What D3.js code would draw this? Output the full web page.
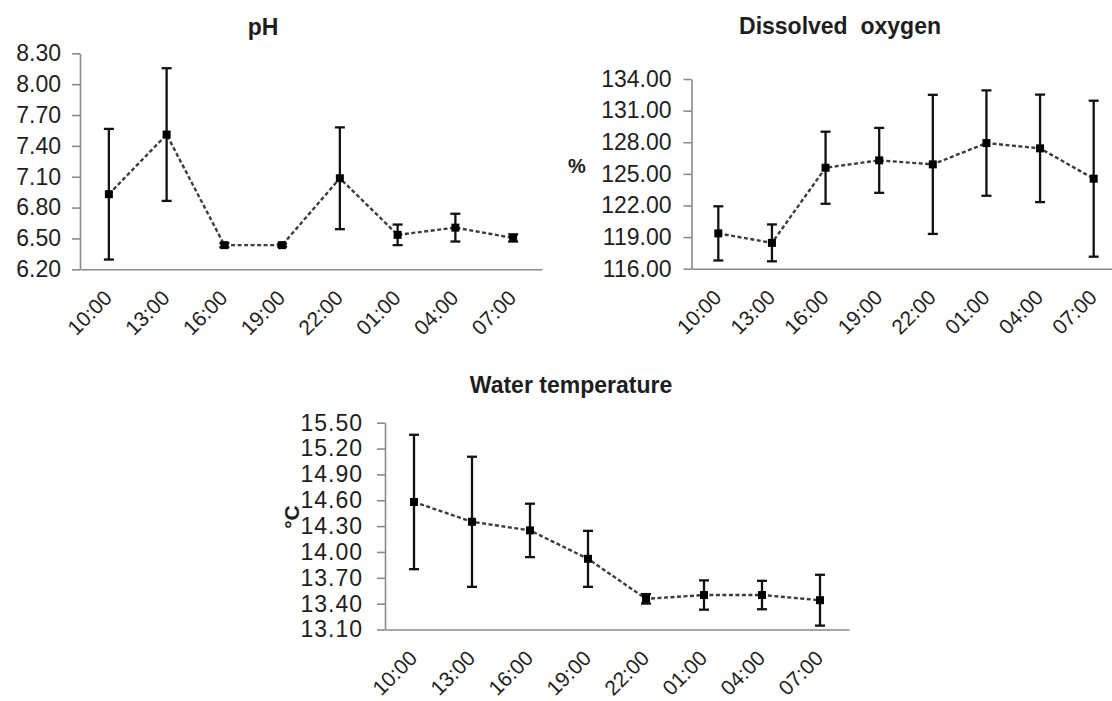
<!DOCTYPE html>
<html>
<head>
<meta charset="utf-8">
<script src="https://cdn.jsdelivr.net/npm/d3@7"></script>
<style>
    body { margin: 0; background: #fff; }
    svg { font-family: "Liberation Sans", Arial, sans-serif; }
    .axis path, .axis line { stroke: #8a8a8a; stroke-width: 1.6px; }
    .axis text { fill: #1e1e1e; }
    .title { font-weight: bold; fill: #1e1e1e; white-space: pre; }
</style>
</head>
<body>
<script>
// sampling times (shared by all three panels)
var times = ["10:00", "13:00", "16:00", "19:00", "22:00", "01:00", "04:00", "07:00"];

// pH
var phMean  = [6.93, 7.51, 6.435, 6.435, 7.085, 6.535, 6.605, 6.505];
var phSd    = [0.635, 0.645, 0.02, 0.015, 0.495, 0.10, 0.135, 0.035];
var phTicks = [6.20, 6.50, 6.80, 7.10, 7.40, 7.70, 8.00, 8.30];

// dissolved oxygen (%)
var doMean  = [119.35, 118.45, 125.58, 126.28, 125.9, 127.92, 127.42, 124.54];
var doSd    = [2.57, 1.75, 3.42, 3.08, 6.6, 5.0, 5.1, 7.4];
var doTicks = [116, 119, 122, 125, 128, 131, 134];

// water temperature (°C)
var wtMean  = [14.58, 14.35, 14.25, 13.92, 13.456, 13.50, 13.50, 13.44];
var wtSd    = [0.78, 0.755, 0.31, 0.325, 0.055, 0.17, 0.165, 0.295];
var wtTicks = [13.10, 13.40, 13.70, 14.00, 14.30, 14.60, 14.90, 15.20, 15.50];

var width = 1112, height = 701;

var svg = d3.select("body").append("svg")
    .attr("width", width)
    .attr("height", height);

function drawPanel(p) {
    var x = d3.scalePoint()
        .domain(times)
        .range([p.left, p.right])
        .padding(0.5);

    var y = d3.scaleLinear()
        .domain([p.ticks[0], p.ticks[p.ticks.length - 1]])
        .range([p.bottom, p.top]);

    var g = svg.append("g");

    // title
    g.append("text")
        .attr("class", "title")
        .attr("x", p.titleX)
        .attr("y", p.titleY)
        .attr("text-anchor", "middle")
        .attr("font-size", "23px")
        .text(p.title);

    // y axis
    var yAxis = g.append("g")
        .attr("class", "axis")
        .attr("transform", "translate(" + p.left + ",0)")
        .call(d3.axisLeft(y).tickValues(p.ticks).tickFormat(d3.format(".2f"))
            .tickSize(8).tickSizeOuter(0).tickPadding(p.tickPad));
    yAxis.selectAll("text")
        .attr("font-size", "23px")
        .attr("letter-spacing", p.spacing);

    // x axis, no tick marks, rotated labels
    var xAxis = g.append("g")
        .attr("class", "axis")
        .attr("transform", "translate(0," + p.bottom + ")")
        .call(d3.axisBottom(x).tickSize(0).tickSizeOuter(0));
    xAxis.selectAll("text")
        .attr("x", 0)
        .attr("y", 0)
        .attr("dy", 0)
        .attr("font-size", "21px")
        .attr("text-anchor", "end")
        .attr("transform", "translate(4,30) rotate(-45)");

    // unit label
    if (p.unit) {
        g.append("text")
            .attr("class", "title")
            .attr("font-size", p.unitSize)
            .attr("text-anchor", "middle")
            .attr("transform", "translate(" + p.unitX + "," + p.unitY + ") rotate(" + p.unitRot + ")")
            .text(p.unit);
    }

    var rows = times.map(function(t, i) { return {t: t, m: p.mean[i], s: p.sd[i]}; });

    // error bars
    var err = g.selectAll(".err").data(rows).enter().append("g")
        .attr("class", "err")
        .attr("stroke", "#111")
        .attr("stroke-width", 2.3);
    err.append("line")
        .attr("x1", function(d) { return x(d.t); })
        .attr("x2", function(d) { return x(d.t); })
        .attr("y1", function(d) { return y(d.m - d.s); })
        .attr("y2", function(d) { return y(d.m + d.s); });
    err.append("line")
        .attr("x1", function(d) { return x(d.t) - 5; })
        .attr("x2", function(d) { return x(d.t) + 5; })
        .attr("y1", function(d) { return y(d.m + d.s); })
        .attr("y2", function(d) { return y(d.m + d.s); });
    err.append("line")
        .attr("x1", function(d) { return x(d.t) - 5; })
        .attr("x2", function(d) { return x(d.t) + 5; })
        .attr("y1", function(d) { return y(d.m - d.s); })
        .attr("y2", function(d) { return y(d.m - d.s); });

    // dashed connecting line
    g.append("path")
        .datum(rows)
        .attr("fill", "none")
        .attr("stroke", "#3c3c3c")
        .attr("stroke-width", 2.4)
        .attr("stroke-dasharray", "4,2.5")
        .attr("d", d3.line()
            .x(function(d) { return x(d.t); })
            .y(function(d) { return y(d.m); }));

    // square markers
    g.selectAll(".mk").data(rows).enter().append("rect")
        .attr("class", "mk")
        .attr("x", function(d) { return x(d.t) - 4; })
        .attr("y", function(d) { return y(d.m) - 4; })
        .attr("width", 8)
        .attr("height", 8)
        .attr("fill", "#000");
}

drawPanel({
    title: "pH", titleX: 263, titleY: 35,
    mean: phMean, sd: phSd, ticks: phTicks,
    left: 80, right: 542, top: 53.3, bottom: 269.3,
    tickPad: 11, spacing: "0px"
});

drawPanel({
    title: "Dissolved  oxygen", titleX: 840, titleY: 34,
    mean: doMean, sd: doSd, ticks: doTicks,
    left: 691.5, right: 1120.5, top: 79, bottom: 268.7,
    tickPad: 12, spacing: "0px",
    unit: "%", unitX: 577, unitY: 173, unitRot: 0, unitSize: "20px"
});

drawPanel({
    title: "Water temperature", titleX: 571, titleY: 393,
    mean: wtMean, sd: wtSd, ticks: wtTicks,
    left: 385, right: 849, top: 422.7, bottom: 629.5,
    tickPad: 14, spacing: "1px",
    unit: "°C", unitX: 299, unitY: 517, unitRot: -90, unitSize: "21px"
});
</script>
</body>
</html>
